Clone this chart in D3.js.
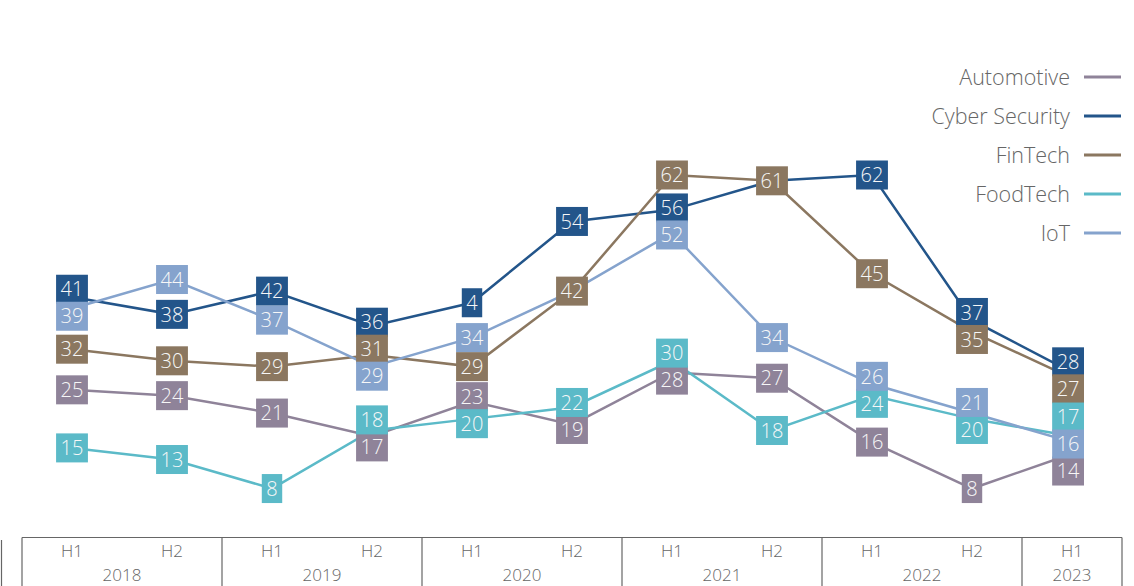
<!DOCTYPE html>
<html>
<script src="https://d3js.org/d3.v7.min.js"></script>

<head>
    <style>
        body {
            margin: 0;
            background-color: #ffffff;
            font-family: "Open Sans", Arial, sans-serif;
        }

        svg {
            display: block;
        }
    </style>
</head>

<body>
</body>
<script>
    const width = 1134,
        height = 586;

    const periods = ["2018 H1", "2018 H2", "2019 H1", "2019 H2", "2020 H1", "2020 H2",
        "2021 H1", "2021 H2", "2022 H1", "2022 H2", "2023 H1"];
    const years = ["2018", "2019", "2020", "2021", "2022", "2023"];
    const seriesNames = ["Automotive", "Cyber Security", "FinTech", "FoodTech", "IoT"];

    const automotive = [25, 24, 21, 17, 23, 19, 28, 27, 16, 8, 14];
    const cyberSecurity = [41, 38, 42, 36, 40, 54, 56, 61, 62, 37, 28];
    const finTech = [32, 30, 29, 31, 29, 42, 62, 61, 45, 35, 27];
    const foodTech = [15, 13, 8, 18, 20, 22, 30, 18, 24, 20, 17];
    const iot = [39, 44, 37, 29, 34, 42, 52, 34, 26, 21, 16];

    // labels that sit under another one with the same value
    const hiddenLabels = [["Cyber Security", "2021 H2"], ["IoT", "2020 H2"]];
    // the 2020 H1 Cyber Security label is cut short in the original
    const labelText = { "Cyber Security|2020 H1": "4" };

    const colors = ["#8f8399", "#23558a", "#8b7760", "#5bbac8", "#85a3cd"];

    const series = seriesNames.map((name, i) => ({
        name: name,
        color: colors[i],
        values: [automotive, cyberSecurity, finTech, foodTech, iot][i]
    }));

    const svg = d3.select("body").append("svg").attr("width", width).attr("height", height);

    const x = d3.scaleBand().domain(periods).range([22, 1122]).padding(0);
    const cx = p => x(p) + x.bandwidth() / 2;
    const y = d3.scaleLinear().domain([0, 62]).range([535, 175]);

    // lines
    const line = d3.line()
        .x((d, i) => cx(periods[i]))
        .y(d => y(d));
    svg.selectAll(".line")
        .data(series)
        .join("path")
        .attr("class", "line")
        .attr("fill", "none")
        .attr("stroke", d => d.color)
        .attr("stroke-width", 2.5)
        .attr("d", d => line(d.values));

    // labels, pushed apart inside each column
    const boxH = 27;
    let labels = [];
    series.forEach(s => {
        s.values.forEach((v, i) => {
            const p = periods[i];
            if (hiddenLabels.some(h => h[0] == s.name && h[1] == p)) return;
            labels.push({
                series: s, period: p, value: v,
                text: labelText[s.name + "|" + p] || String(v),
                x: cx(p), y: y(v)
            });
        });
    });
    periods.forEach(p => {
        const col = labels.filter(l => l.period == p).sort((a, b) => a.y - b.y);
        for (let iter = 0; iter < 100; iter++) {
            let moved = false;
            for (let k = 0; k < col.length - 1; k++) {
                const gap = col[k + 1].y - col[k].y;
                if (gap < boxH - 0.01) {
                    const shift = (boxH - gap) / 2;
                    col[k].y -= shift;
                    col[k + 1].y += shift;
                    moved = true;
                }
            }
            if (!moved) break;
        }
    });

    const lab = svg.selectAll(".label")
        .data(labels)
        .join("g")
        .attr("class", "label");
    const rects = lab.append("rect").attr("fill", d => d.series.color);
    const texts = lab.append("text")
        .attr("x", d => d.x)
        .attr("y", d => d.y)
        .attr("dy", "0.36em")
        .attr("text-anchor", "middle")
        .attr("fill", "#f7f7f7")
        .attr("font-size", 20)
        .attr("font-weight", 300)
        .text(d => d.text);
    texts.each(function (d) { d.w = this.getComputedTextLength() + 9; });
    labels.forEach(d => {
        // keep last column inside the plot
        if (d.x + d.w / 2 > 1084) d.x = 1084 - d.w / 2;
    });
    texts.attr("x", d => d.x);
    rects.attr("x", d => d.x - d.w / 2)
        .attr("y", d => d.y - 14.5)
        .attr("width", d => d.w)
        .attr("height", 29);

    // legend
    const legend = svg.append("g").attr("class", "legend");
    const leg = legend.selectAll("g")
        .data(series)
        .join("g")
        .attr("transform", (d, i) => `translate(0,${77 + i * 39})`);
    leg.append("text")
        .attr("x", 1070)
        .attr("dy", "0.35em")
        .attr("text-anchor", "end")
        .attr("fill", "#666666")
        .attr("font-size", 21.5)
        .attr("font-weight", 300)
        .text(d => d.name);
    leg.append("line")
        .attr("x1", 1084)
        .attr("x2", 1121)
        .attr("stroke", d => d.color)
        .attr("stroke-width", 3);

    // two-level category axis
    const axis = svg.append("g").attr("class", "axis");
    const axisTop = 537.5;
    axis.append("line")
        .attr("x1", x.range()[0]).attr("x2", x.range()[1])
        .attr("y1", axisTop).attr("y2", axisTop)
        .attr("stroke", "#666").attr("stroke-width", 1.2);
    axis.append("line")
        .attr("x1", 1.5).attr("x2", 1.5)
        .attr("y1", 540).attr("y2", height)
        .attr("stroke", "#666").attr("stroke-width", 1.2);
    axis.selectAll(".period")
        .data(periods)
        .join("text")
        .attr("class", "period")
        .attr("x", d => cx(d))
        .attr("y", 557)
        .attr("text-anchor", "middle")
        .attr("fill", "#666666")
        .attr("font-size", 17)
        .attr("font-weight", 300)
        .text(d => d.split(" ")[1]);
    const yearSpans = years.map(yr => {
        const ps = periods.filter(p => p.startsWith(yr));
        return { year: yr, x0: x(ps[0]), x1: x(ps[ps.length - 1]) + x.bandwidth() };
    });
    axis.selectAll(".sep")
        .data([yearSpans[0].x0].concat(yearSpans.map(d => d.x1)))
        .join("line")
        .attr("class", "sep")
        .attr("x1", d => d).attr("x2", d => d)
        .attr("y1", axisTop).attr("y2", height)
        .attr("stroke", "#666").attr("stroke-width", 1.2);
    axis.selectAll(".year")
        .data(yearSpans)
        .join("text")
        .attr("class", "year")
        .attr("x", d => (d.x0 + d.x1) / 2)
        .attr("y", 581)
        .attr("text-anchor", "middle")
        .attr("fill", "#666666")
        .attr("font-size", 17)
        .attr("font-weight", 300)
        .text(d => d.year);
</script>

</html>
